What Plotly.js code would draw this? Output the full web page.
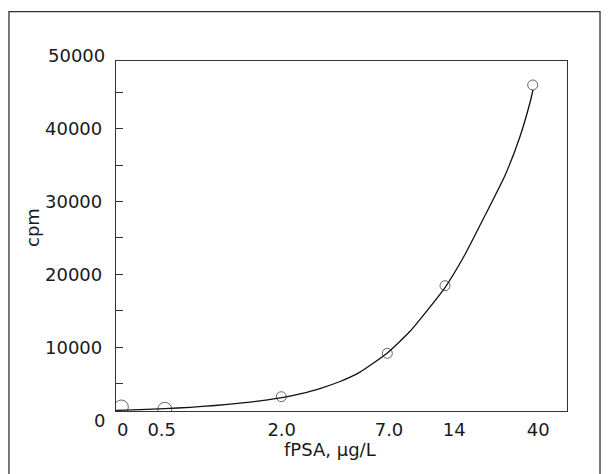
<!DOCTYPE html>
<html>
<head>
<meta charset="utf-8">
<script src="https://cdn.plot.ly/plotly-3.0.1.min.js"></script>
<style>html,body{margin:0;padding:0;background:#fff;}#chart{width:608px;height:474px;}</style>
</head>
<body>
<div id="chart"></div>
<script>
// x axis is a non-linear display scale (position units 0..100 across the frame)
var xTickPos = [1.49, 10.13, 36.74, 60.53, 75.01, 93.64];
var xTickLabels = ['0', '0.5', '2.0', '7.0', '14', '40'];

// measured standards (position on display scale, cpm)
var pointPos = [1.18, 10.80, 36.65, 60.16, 72.95, 92.39];
var pointCpm = [1786, 1470, 3200, 9162, 18447, 46016];

// fitted calibration curve
var curvePos = [0, 5.32, 10.86, 16.41, 21.95, 27.49, 31.93, 36.81, 40.80, 45.23, 49.67, 54.10, 60.09, 65.19, 72.95, 77.38, 81.82, 86.25, 89.58, 91.80, 92.46];
var curveCpm = [1332, 1429, 1566, 1744, 1992, 2308, 2637, 3077, 3599, 4327, 5288, 6580, 9176, 12184, 18200, 22733, 28090, 33585, 38942, 43612, 45329];

// y ticks every 5000, labels every 10000
var yTickVals = [0, 5000, 10000, 15000, 20000, 25000, 30000, 35000, 40000, 45000, 50000];
var yTickText = ['0', '', '10000', '', '20000', '', '30000', '', '40000', '', '50000'];

var txt = '#1a1a1a';
var lineCol = '#333333';
var fontFam = 'DejaVu Sans, Verdana, sans-serif';

var yRange = [1236, 49313];
var yDomain = [0.0247, 0.9863];

var traces = [
  {
    x: curvePos, y: curveCpm, type: 'scatter', mode: 'lines',
    line: {color: '#111111', width: 1.3, shape: 'spline', smoothing: 0.5},
    hoverinfo: 'skip', showlegend: false, cliponaxis: true
  },
  {
    x: pointPos, y: pointCpm, type: 'scatter', mode: 'markers',
    marker: {symbol: 'circle-open', color: '#222222', size: [14, 14, 10, 10, 10, 10], line: {width: 1, color: '#222222'}},
    showlegend: false, cliponaxis: true
  }
];

// tick labels that sit just outside the frame's range (0 and 50000) are written as text at their value
var annotations = [];
yTickVals.forEach(function (v, i) {
  if (yTickText[i] && (v < yRange[0] || v > yRange[1])) {
    var frac = (v - yRange[0]) / (yRange[1] - yRange[0]);
    annotations.push({
      text: yTickText[i], xref: 'paper', yref: 'paper',
      x: -0.021, y: yDomain[0] + frac * (yDomain[1] - yDomain[0]),
      xanchor: 'right', yanchor: 'middle', showarrow: false,
      font: {family: fontFam, size: 18, color: txt}
    });
  }
});
annotations.push(
  {text: 'cpm', xref: 'paper', yref: 'paper', x: -0.184, y: 0.5275, textangle: -90,
   showarrow: false, xanchor: 'center', yanchor: 'middle', font: {family: fontFam, size: 18, color: txt}},
  {text: 'fPSA, μg/L', xref: 'paper', yref: 'paper', x: 0.4734, y: -0.0797,
   showarrow: false, xanchor: 'center', yanchor: 'middle', font: {family: fontFam, size: 18, color: txt}}
);

var innerVals = yTickVals.filter(function (v) { return v >= yRange[0] && v <= yRange[1]; });
var innerText = yTickText.filter(function (t, i) { return yTickVals[i] >= yRange[0] && yTickVals[i] <= yRange[1]; });

var layout = {
  width: 608, height: 474,
  margin: {l: 116, r: 41, t: 56, b: 54, pad: 0},
  paper_bgcolor: '#ffffff',
  plot_bgcolor: 'rgba(0,0,0,0)',
  font: {family: fontFam, size: 18, color: txt},
  xaxis: {
    range: [0, 100], tickmode: 'array', tickvals: xTickPos, ticktext: xTickLabels,
    ticks: '', showgrid: false, zeroline: false,
    showline: true, mirror: true, linecolor: lineCol, linewidth: 1.3,
    anchor: 'y', ticklabelstandoff: 2,
    tickfont: {family: fontFam, size: 18, color: txt}
  },
  yaxis: {
    domain: yDomain, range: yRange,
    tickmode: 'array', tickvals: innerVals, ticktext: innerText,
    ticks: 'inside', ticklen: 7, tickcolor: lineCol, tickwidth: 1,
    showgrid: false, zeroline: false, ticklabelstandoff: 9,
    showline: true, mirror: true, linecolor: lineCol, linewidth: 1.3,
    tickfont: {family: fontFam, size: 18, color: txt}
  },
  annotations: annotations,
  shapes: [
    {type: 'rect', xref: 'paper', yref: 'paper', x0: -0.2373, x1: 1.0732, y0: -0.165, y1: 1.1217,
     line: {color: lineCol, width: 1.3}, fillcolor: 'rgba(0,0,0,0)', layer: 'below'}
  ]
};

Plotly.newPlot('chart', traces, layout, {displayModeBar: false});
</script>
</body>
</html>
